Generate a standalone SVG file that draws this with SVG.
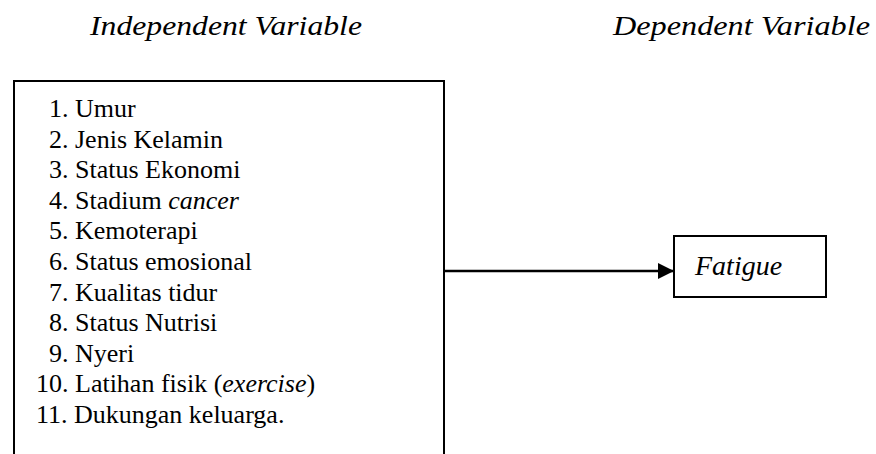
<svg xmlns="http://www.w3.org/2000/svg" width="876" height="454" viewBox="0 0 876 454">
<style>
.t{font-family:"Liberation Serif","DejaVu Serif",serif;fill:#000}
.title{font-size:28px;font-style:italic}
.item{font-size:26px}
.box{fill:#fff;stroke:#000;stroke-width:2}
.conn{stroke:#000;stroke-width:2.5;fill:none}
</style>
<defs>
<marker id="arr" viewBox="0 0 16 16" refX="16" refY="8" markerWidth="16" markerHeight="16" markerUnits="userSpaceOnUse" orient="auto">
<path d="M0,0 L16,8 L0,16 Z" fill="#000"/>
</marker>
</defs>
<rect width="876" height="454" fill="#fff"/>
<text class="t title" x="90" y="35" textLength="272" lengthAdjust="spacingAndGlyphs">Independent Variable</text>
<text class="t title" x="613" y="35" textLength="257" lengthAdjust="spacingAndGlyphs">Dependent Variable</text>
<g id="connectors">
<line class="conn" x1="444" y1="271" x2="674" y2="271" marker-end="url(#arr)"/>
</g>
<g id="independent">
<rect class="box" x="14" y="81" width="430" height="400"/>
<text class="t item" x="49" y="117">1. Umur</text>
<text class="t item" x="49" y="147.6">2. Jenis Kelamin</text>
<text class="t item" x="49" y="178.2">3. Status Ekonomi</text>
<text class="t item" x="49" y="208.8">4. Stadium <tspan font-style="italic">cancer</tspan></text>
<text class="t item" x="49" y="239.4">5. Kemoterapi</text>
<text class="t item" x="49" y="270">6. Status emosional</text>
<text class="t item" x="49" y="300.6">7. Kualitas tidur</text>
<text class="t item" x="49" y="331.2">8. Status Nutrisi</text>
<text class="t item" x="49" y="361.8">9. Nyeri</text>
<text class="t item" x="36" y="392.4">10. Latihan fisik (<tspan font-style="italic">exercise</tspan>)</text>
<text class="t item" x="36" y="423">11. Dukungan keluarga.</text>
</g>
<g id="dependent">
<rect class="box" x="674" y="236" width="152" height="61"/>
<text class="t" x="695" y="275" font-size="28" font-style="italic">Fatigue</text>
</g>
</svg>
